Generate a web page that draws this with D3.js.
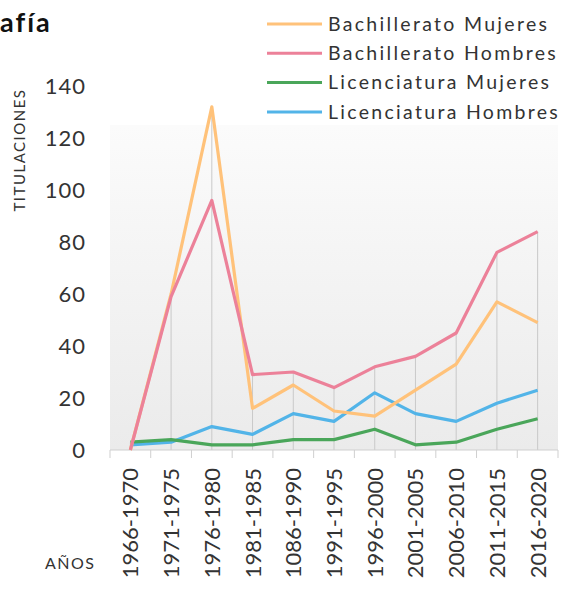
<!DOCTYPE html>
<html>
<head>
<meta charset="utf-8">
<script src="https://cdn.jsdelivr.net/npm/d3@7"></script>
<style>
  body { margin: 0; background: #fff; }
  svg text { font-family: Lato, "Open Sans", sans-serif; fill: #333; }
</style>
</head>
<body>
<svg width="565" height="589"></svg>
<script>
const width = 565, height = 589;
const svg = d3.select("svg");

// data
const periods = ["1966-1970", "1971-1975", "1976-1980", "1981-1985", "1086-1990", "1991-1995",
                 "1996-2000", "2001-2005", "2006-2010", "2011-2015", "2016-2020"];
const bachMujeres = [0, 60, 132, 16, 25, 15, 13, 23, 33, 57, 49];
const bachHombres = [0, 59, 96, 29, 30, 24, 32, 36, 45, 76, 84];
const licMujeres  = [3, 4, 2, 2, 4, 4, 8, 2, 3, 8, 12];
const licHombres  = [2, 3, 9, 6, 14, 11, 22, 14, 11, 18, 23];
const seriesNames = ["Bachillerato Mujeres", "Bachillerato Hombres", "Licenciatura Mujeres", "Licenciatura Hombres"];
const seriesColors = ["#ffc27a", "#ec8199", "#4aa65a", "#52b4e8"];
const yTicks = [0, 20, 40, 60, 80, 100, 120, 140];

const series = [bachMujeres, bachHombres, licMujeres, licHombres].map((v, i) => ({
  name: seriesNames[i], color: seriesColors[i], values: v
}));

const x = d3.scaleBand().domain(periods).range([110, 558]);
const y = d3.scaleLinear().domain([0, 140]).range([450, 86]);
const cx = d => x(d) + x.bandwidth() / 2;

// plot background
const defs = svg.append("defs");
const grad = defs.append("linearGradient").attr("id", "bg").attr("x1", 0).attr("y1", 0).attr("x2", 0).attr("y2", 1);
grad.append("stop").attr("offset", 0).attr("stop-color", "#fbfbfb");
grad.append("stop").attr("offset", 1).attr("stop-color", "#ebebeb");
svg.append("rect")
  .attr("x", 110).attr("y", 125)
  .attr("width", 448).attr("height", 325)
  .attr("fill", "url(#bg)");

// drop lines from top value of each period
svg.append("g").selectAll("line")
  .data(periods)
  .join("line")
  .attr("x1", cx).attr("x2", cx)
  .attr("y1", (d, i) => y(d3.max(series, s => s.values[i])))
  .attr("y2", 450)
  .attr("stroke", "#c9c9c9")
  .attr("stroke-width", 1);

// x axis: baseline plus ticks at band edges
const xAxis = svg.append("g");
xAxis.append("line")
  .attr("x1", 110).attr("x2", 558).attr("y1", 450).attr("y2", 450)
  .attr("stroke", "#cfcfcf");
const edges = periods.map(p => x(p)).concat([x.range()[1]]);
xAxis.selectAll(".tk")
  .data(edges)
  .join("line")
  .attr("x1", d => d).attr("x2", d => d)
  .attr("y1", 450).attr("y2", 458)
  .attr("stroke", "#cfcfcf");
xAxis.selectAll("text")
  .data(periods)
  .join("text")
  .attr("transform", d => `translate(${cx(d) + 8},468) rotate(-90)`)
  .attr("text-anchor", "end")
  .attr("font-size", 22)
  .attr("font-weight", 400)
  .text(d => d);

// y axis labels
svg.append("g").selectAll("text")
  .data(yTicks)
  .join("text")
  .attr("x", 86)
  .attr("y", d => y(d))
  .attr("dy", "0.35em")
  .attr("text-anchor", "end")
  .attr("font-size", 22)
  .attr("font-weight", 400)
  .attr("letter-spacing", 1)
  .text(d => d);

svg.append("text")
  .attr("transform", "translate(25,150) rotate(-90)")
  .attr("text-anchor", "middle")
  .attr("font-size", 15)
  .attr("font-weight", 400)
  .attr("letter-spacing", 1.5)
  .text("TITULACIONES");

svg.append("text")
  .attr("x", 45).attr("y", 569)
  .attr("font-size", 16)
  .attr("font-weight", 400)
  .attr("letter-spacing", 1.5)
  .text("AÑOS");

// title: only the tail of the word is visible in the source
svg.append("text")
  .attr("x", 0).attr("y", 32)
  .attr("font-size", 27)
  .attr("font-weight", 700)
  .attr("letter-spacing", 2)
  .style("fill", "#111")
  .text("afía");

// lines
const line = d3.line()
  .x((d, i) => cx(periods[i]))
  .y(d => y(d));
const drawOrder = [3, 2, 0, 1];
svg.append("g").selectAll("path")
  .data(drawOrder.map(i => series[i]))
  .join("path")
  .attr("d", d => line(d.values))
  .attr("fill", "none")
  .attr("stroke", d => d.color)
  .attr("stroke-width", 3.2)
  .attr("stroke-linejoin", "round");

// legend
const legend = svg.append("g").selectAll("g")
  .data(series)
  .join("g")
  .attr("transform", (d, i) => `translate(267,${24 + i * 29.3})`);
legend.append("line")
  .attr("x1", 0).attr("x2", 55)
  .attr("stroke", d => d.color)
  .attr("stroke-width", 3);
legend.append("text")
  .attr("x", 61)
  .attr("dy", "0.35em")
  .attr("font-size", 19.5)
  .attr("font-weight", 400)
  .attr("letter-spacing", 2.3)
  .text(d => d.name);
</script>
</body>
</html>
